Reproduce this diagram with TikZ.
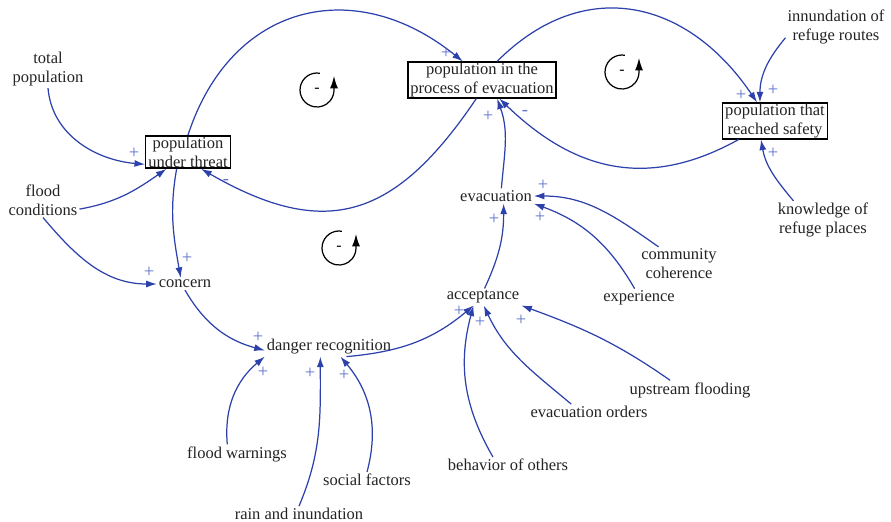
\documentclass[tikz,border=0pt]{standalone}
\usepackage{fontspec}
\setmainfont{Liberation Serif}
\usetikzlibrary{arrows.meta}

\definecolor{linkblue}{RGB}{45,65,170}
\definecolor{signblue}{RGB}{95,115,205}
\definecolor{txt}{RGB}{35,35,35}

\begin{document}
\begin{tikzpicture}[x=0.02cm, y=-0.02cm,
  every node/.style={font=\fontsize{9.4}{10.8}\selectfont, text=txt},
  var/.style={inner sep=1pt, align=center},
  stock/.style={draw=black, line width=0.8pt, inner xsep=1.5pt, inner ysep=0.5pt, align=center},
  link/.style={linkblue, line width=0.7pt, -{Latex[length=6pt,width=4pt]}},
  pol/.style={text=signblue, font=\fontsize{10.5}{10.5}\selectfont, inner sep=0pt},
  loopmark/.style={black, line width=0.7pt, -{Latex[length=7pt,width=4.5pt]}}]

\useasboundingbox (0,0) rectangle (891,521);

%% ---- stocks (boxed) -------------------------
\node[stock] (put) at (188,152) {population\\under threat};
\node[stock] (pie) at (482,80)  {population in the\\process of evacuation};
\node[stock] (prs) at (775,121) {population that\\reached safety};

%% ---- auxiliary variables -------------------------
\node[var] (tpop)    at (48,69)   {total\\population};
\node[var] (floodc)  at (43,200)  {flood\\conditions};
\node[var] (concern) at (185,284) {concern};
\node[var] (danger)  at (329,347) {danger recognition};
\node[var] (inund)   at (836,27)  {innundation of\\refuge routes};
\node[var] (knowl)   at (823,220) {knowledge of\\refuge places};
\node[var] (evac)    at (496,196) {evacuation};
\node[var] (commc)   at (679,264) {community\\coherence};
\node[var] (exper)   at (639,298) {experience};
\node[var] (accept)  at (483,297) {acceptance};
\node[var] (upstr)   at (690,390) {upstream flooding};
\node[var] (evord)   at (589,412) {evacuation orders};
\node[var] (behav)   at (508,465) {behavior of others};
\node[var] (floodw)  at (237,454) {flood warnings};
\node[var] (social)  at (367,480) {social factors};
\node[var] (rain)    at (299,514) {rain and inundation};

%% ---- causal links -------------------------
\draw[link] (tpop.south) to[out=-85, in=175] (put.196);
\draw[link] (floodc.-14) to[out=10, in=-145] (put.218);
\draw[link] (put.north) to[out=72, in=141, looseness=1.25] (pie.136);
\draw[link] (pie.-107) to[out=-124, in=-30, looseness=1.3] (put.-52);
\draw[link] (pie.51) to[out=45, in=124, looseness=1.2] (prs.134);
\draw[link] (prs.207) to[out=-151, in=-44, looseness=1.1] (pie.-47);
\draw[link] (inund.192) to[out=-130, in=90] (prs.129);
\draw[link] (knowl.147) to[out=130, in=-80] (prs.-127);
\draw[link] (put.-124) to[out=-100, in=100] (concern.125);
\draw[link] (floodc.south) to[out=-50, in=180] (concern.west);
\draw[link] (concern.south) to[out=-60, in=165] (danger.183);
\draw[link] (floodw.135) to[out=95, in=-140] (danger.south west);
\draw[link] (rain.north) to[out=67, in=-90] (danger.228);
\draw[link] (social.north) to[out=75, in=-50] (danger.-40);
\draw[link] (danger.-29) to[out=5, in=-140] (accept.-138);
\draw[link] (behav.152) to[out=120, in=-105] (accept.-138);
\draw[link] (evord.156) to[out=140, in=-65] (accept.-85);
\draw[link] (upstr.154) to[out=145, in=-20] (accept.south east);
\draw[link] (accept.80) to[out=65, in=-90] (evac.-45);
\draw[link] (commc.140) to[out=145, in=0] (evac.east);
\draw[link] (exper.115) to[out=120, in=-20] (evac.south east);
\draw[link] (evac.55) to[out=85, in=-70] (pie.-51);

%% ---- link polarities -------------------------
\foreach \x/\y [count=\k] in {134/153, 446/53, 741/95, 773/90, 773/153, 488/116,
    187/258, 149/272, 258/337, 263/372, 310/373, 344/375,
    459/311, 480/322, 521/320, 494/219, 543/185, 540/217} {
  \node[pol] (plus\k) at (\x,\y) {+};
}
\foreach \x/\y [count=\k] in {226/182, 525/113} {
  \node[pol] (minus\k) at (\x,\y) {-};
}

%% ---- loop markers -------------------------
\foreach \cx/\cy [count=\k] in {317/90, 622/72, 339/248} {
  \draw[loopmark] (\cx,\cy) ++(80:0.34cm)
    arc[start angle=80, end angle=360, radius=0.34cm] -- ++(0,-14);
  \node[pol, text=black, font=\fontsize{9}{9}\selectfont] (loop\k) at (\cx,\cy) {-};
}

\end{tikzpicture}
\end{document}
